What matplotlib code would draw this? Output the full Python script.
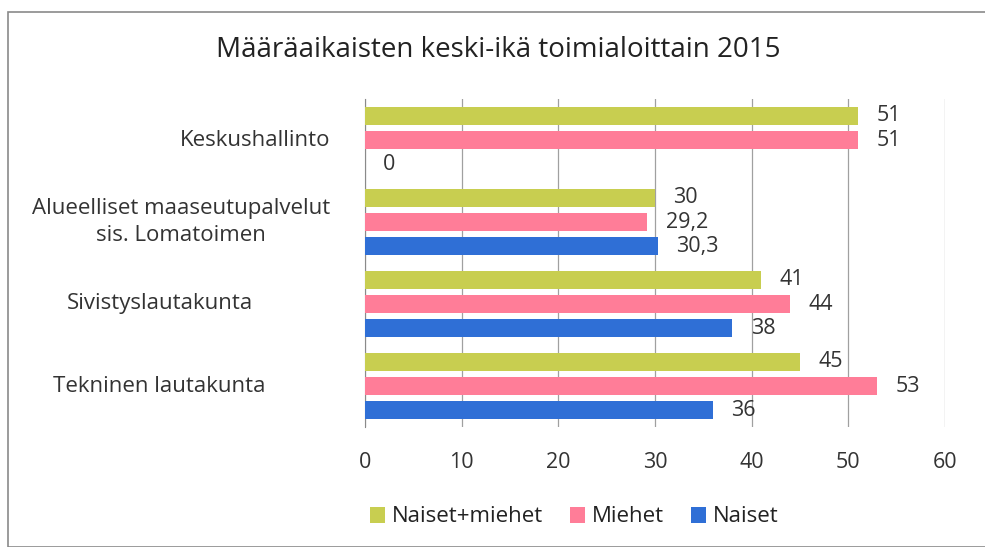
import matplotlib.pyplot as plt
import numpy as np
from matplotlib.patches import Rectangle

categories = ["Keskushallinto",
              "Alueelliset maaseutupalvelut\nsis. Lomatoimen",
              "Sivistyslautakunta",
              "Tekninen lautakunta"]
series_names = ["Naiset+miehet", "Miehet", "Naiset"]
naiset_miehet = [51, 30, 41, 45]
miehet = [51, 29.2, 44, 53]
naiset = [0, 30.3, 38, 36]
colors = ["#c8ce50", "#ff7d98", "#2f6fd6"]
# label centres (figure px) to mimic the Excel layout
label_x = [255, 181, 160, 159]


def fmt(v):
    s = ("%g" % v)
    return s.replace(".", ",")


def main():
    fig = plt.figure(figsize=(9.85, 5.47), dpi=100)
    plt.rcParams['font.family'] = ['Open Sans', 'DejaVu Sans']
    ax = fig.add_axes([365/985, 1-427/547, 580/985, 328/547])

    y = np.arange(len(categories))
    pitch = 0.293
    h = 0.21
    data = [naiset_miehet, miehet, naiset]
    for i, (vals, col, name) in enumerate(zip(data, colors, series_names)):
        yy = y + (i - 1) * pitch
        ax.barh(yy, vals, height=h, color=col, label=name, zorder=3)
        for yv, v in zip(yy, vals):
            ax.text(v + 1.9, yv, fmt(v), va='center', ha='left',
                    fontsize=15.5, color='#333333', zorder=4)

    ax.set_xlim(0, 60)
    ax.set_ylim(len(categories) - 0.5, -0.5)
    ax.set_xticks(range(0, 61, 10))
    ax.tick_params(axis='x', length=0, labelsize=15.5, colors='#333333', pad=18)
    ax.set_yticks([])
    for s in ['top', 'right', 'bottom']:
        ax.spines[s].set_visible(False)
    ax.spines['left'].set_color('#8a8a8a')
    ax.grid(axis='x', color='#a0a0a0', linewidth=0.9, zorder=0)

    inv = fig.transFigure.inverted()
    for yv, cat, lx in zip(y, categories, label_x):
        fy = inv.transform(ax.transData.transform((0, yv)))[1]
        fig.text(lx/985, fy, cat, ha='center', va='center', fontsize=16,
                 color='#333333', linespacing=1.35)

    fig.text(0.506, 1-50/547, "Määräaikaisten keski-ikä toimialoittain 2015",
             ha='center', va='center', fontsize=20, color='#222222')

    fig.legend(loc='center', bbox_to_anchor=(0.583, 1-517/547), ncol=3,
               frameon=False, fontsize=16, handlelength=0.7, handleheight=0.7,
               handletextpad=0.3, columnspacing=1.2, labelcolor='#222222')

    fig.patches.append(Rectangle((8/985, 0), 1, 1-12/547, transform=fig.transFigure,
                                 fill=False, edgecolor='#8a8a8a', linewidth=1.2))
    fig.savefig("out.png", dpi=100)


if __name__ == '__main__':
    main()
